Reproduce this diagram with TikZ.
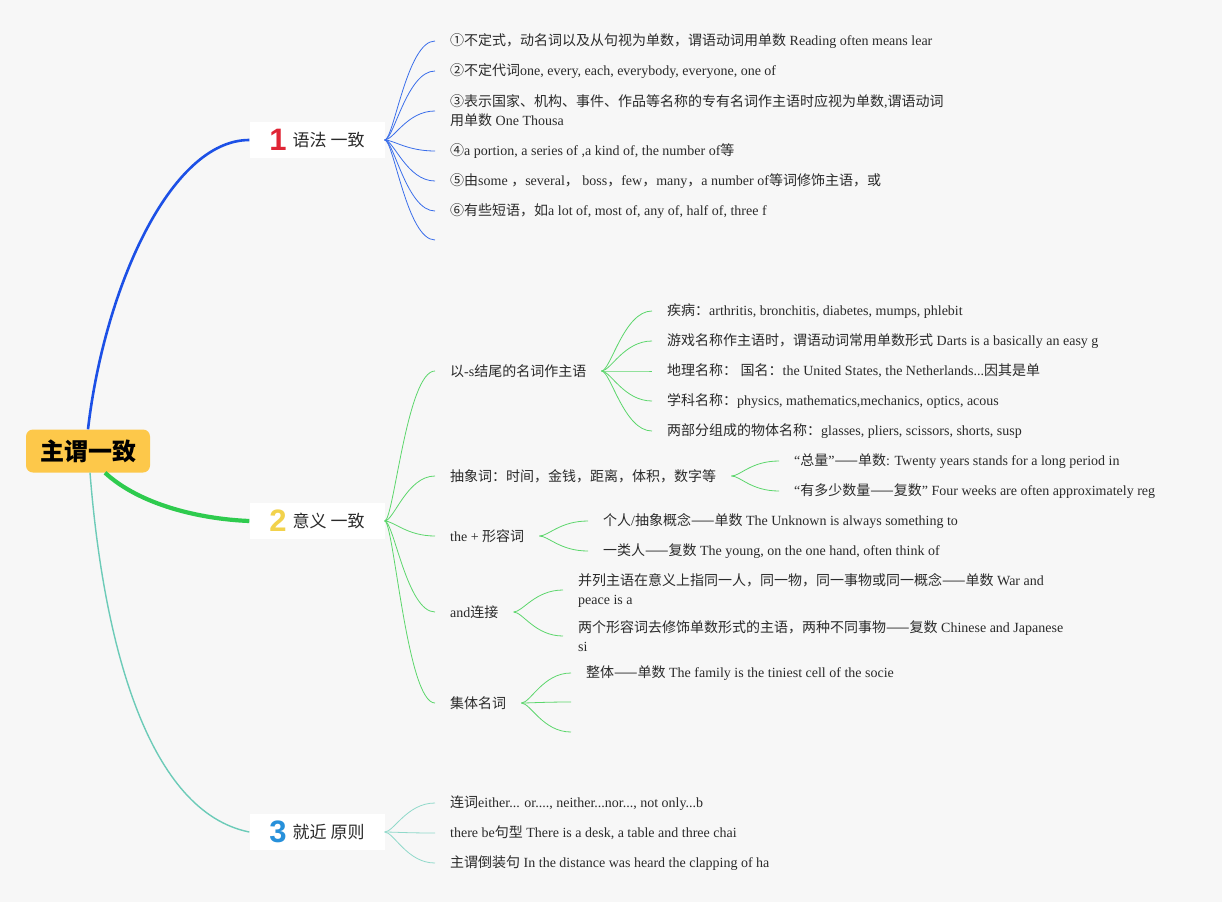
\documentclass[tikz,border=0pt]{standalone}
\usepackage{fontspec}
\setmainfont{Liberation Serif}
\newfontfamily\cjk{Noto Sans CJK SC}
\newfontfamily\numfont{Liberation Sans}
\newcommand\zh[1]{{\cjk #1}}
\newcommand\badge[2]{\raisebox{-4pt}{\color{#1}\numfont\bfseries\fontsize{31}{31}\selectfont #2}}
\definecolor{bgcol}{HTML}{F7F7F7}
\definecolor{rootcol}{HTML}{FDC84A}
\definecolor{bluecol}{HTML}{1C50E6}
\definecolor{greencol}{HTML}{2ECB4E}
\definecolor{tealcol}{HTML}{6CCBB8}
\definecolor{blueleaf}{HTML}{3A6EEA}
\definecolor{greenleaf}{HTML}{5CD66C}
\definecolor{tealleaf}{HTML}{90D9CA}
\definecolor{leaftext}{HTML}{2A2A2A}
\definecolor{onecol}{HTML}{E02535}
\definecolor{twocol}{HTML}{F2D24C}
\definecolor{threecol}{HTML}{2790DA}

\begin{document}
\begin{tikzpicture}[x=1pt,y=-1pt,
  root/.style={fill=rootcol,rounded corners=7pt,minimum width=124pt,minimum height=43pt,
    font=\cjk\bfseries\fontsize{24}{26}\selectfont,text=black},
  topic/.style={fill=white,minimum width=135pt,minimum height=36pt,inner sep=0pt,
    font=\cjk\fontsize{17}{20}\selectfont,text=leaftext},
  leaf/.style={anchor=west,inner xsep=15pt,inner ysep=1pt,align=left,
    text=leaftext,font=\fontsize{14}{19}\selectfont},
  twig/.style={line width=0.8pt,to path={.. controls +(9,0) and +(-28,0) .. (\tikztotarget)}}]

\fill[bgcol] (0,0) rectangle (1222,902);

\node[root] (root) at (88,451) {主谓一致};
\node[topic] (n1) at (317,140) {\badge{onecol}{1}\hspace{6pt}语法 一致};
\node[topic] (n2) at (317,521) {\badge{twocol}{2}\hspace{6pt}意义 一致};
\node[topic] (n3) at (317,832) {\badge{threecol}{3}\hspace{6pt}就近 原则};

\draw[bluecol,line width=2.6pt] (root.north) .. controls (104,290) and (170,140) .. (n1.west);
\draw[greencol,line width=4.2pt] ([xshift=17pt]root.south) .. controls (140,505) and (200,519) .. (n2.west);
\draw[tealcol,line width=1.4pt] ([xshift=2pt]root.south) .. controls (104,650) and (150,812) .. (n3.west);

\node[leaf] (b1) at (435,41) {\zh{①不定式，动名词以及从句视为单数，谓语动词用单数} Reading often means lear};
\node[leaf] (b2) at (435,71) {\zh{②不定代词}one, every, each, everybody, everyone, one of};
\node[leaf] (b3) at (435,111) {\zh{③表示国家、机构、事件、作品等名称的专有名词作主语时应视为单数},\zh{谓语动词}\\\zh{用单数} One Thousa};
\node[leaf] (b4) at (435,151) {\zh{④}a portion, a series of ,a kind of, the number of\zh{等}};
\node[leaf] (b5) at (435,181) {\zh{⑤由}some \zh{，}several\zh{，} boss\zh{，}few\zh{，}many\zh{，}a number of\zh{等词修饰主语，或}};
\node[leaf] (b6) at (435,211) {\zh{⑥有些短语，如}a lot of, most of, any of, half of, three f};
\coordinate (b7) at (435,240);
\foreach \k in {b1,b2,b3,b4,b5,b6}
  \draw[twig,blueleaf] (n1.east) to (\k.west);
\draw[twig,blueleaf] (n1.east) to (b7);

\node[leaf] (g1) at (435,371) {\zh{以}-s\zh{结尾的名词作主语}};
\node[leaf] (g2) at (435,476) {\zh{抽象词：时间，金钱，距离，体积，数字等}};
\node[leaf] (g3) at (435,536) {the + \zh{形容词}};
\node[leaf] (g4) at (435,612) {and\zh{连接}};
\node[leaf] (g5) at (435,703) {\zh{集体名词}};
\foreach \k in {g1,g2,g3,g4,g5}
  \draw[twig,greenleaf] (n2.east) to (\k.west);

\node[leaf] (g11) at (652,311) {\zh{疾病：}arthritis, bronchitis, diabetes, mumps, phlebit};
\node[leaf] (g12) at (652,341) {\zh{游戏名称作主语时，谓语动词常用单数形式} Darts is a basically an easy g};
\node[leaf] (g13) at (652,371) {\zh{地理名称：} \zh{国名：}the United States, the Netherlands...\zh{因其是单}};
\node[leaf] (g14) at (652,401) {\zh{学科名称：}physics, mathematics,mechanics, optics, acous};
\node[leaf] (g15) at (652,431) {\zh{两部分组成的物体名称：}glasses, pliers, scissors, shorts, susp};
\foreach \k in {g11,g12,g13,g14,g15}
  \draw[twig,greenleaf] (g1.east) to (\k.west);

\node[leaf] (g21) at (779,461) {“\zh{总量}”\zh{——单数}: Twenty years stands for a long period in};
\node[leaf] (g22) at (779,491) {“\zh{有多少数量——复数}” Four weeks are often approximately reg};
\foreach \k in {g21,g22}
  \draw[twig,greenleaf] (g2.east) to (\k.west);

\node[leaf] (g31) at (588,521) {\zh{个人}/\zh{抽象概念——单数} The Unknown is always something to};
\node[leaf] (g32) at (588,551) {\zh{一类人——复数} The young, on the one hand, often think of};
\foreach \k in {g31,g32}
  \draw[twig,greenleaf] (g3.east) to (\k.west);

\node[leaf] (g41) at (563,590) {\zh{并列主语在意义上指同一人，同一物，同一事物或同一概念——单数} War and\\peace is a};
\node[leaf] (g42) at (563,636) {\zh{两个形容词去修饰单数形式的主语，两种不同事物——复数} Chinese and Japanese\\si};
\foreach \k in {g41,g42}
  \draw[twig,greenleaf] (g4.east) to (\k.west);

\node[leaf] (g51) at (571,673) {\zh{整体——单数} The family is the tiniest cell of the socie};
\coordinate (g52) at (571,702);
\coordinate (g53) at (571,732);
\draw[twig,greenleaf] (g5.east) to (g51.west);
\draw[twig,greenleaf] (g5.east) to (g52);
\draw[twig,greenleaf] (g5.east) to (g53);

\node[leaf] (t1) at (435,803) {\zh{连词}either... or...., neither...nor..., not only...b};
\node[leaf] (t2) at (435,833) {there be\zh{句型} There is a desk, a table and three chai};
\node[leaf] (t3) at (435,863) {\zh{主谓倒装句} In the distance was heard the clapping of ha};
\foreach \k in {t1,t2,t3}
  \draw[twig,tealleaf] (n3.east) to (\k.west);
\end{tikzpicture}
\end{document}
